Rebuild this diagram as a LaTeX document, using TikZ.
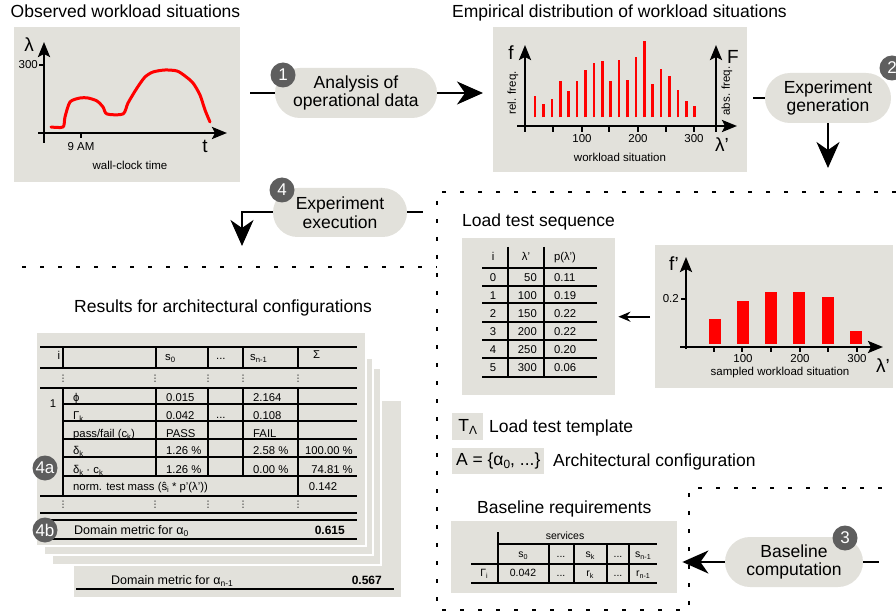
\documentclass[tikz,border=0pt]{standalone}
\usepackage{fontspec}
\setmainfont{Liberation Sans}
\newfontfamily\dejavu{DejaVu Sans}
\usetikzlibrary{arrows.meta,shapes.misc}

\definecolor{panel}{HTML}{E2E1DB}
\definecolor{badgegray}{HTML}{5E5E5E}
\definecolor{barred}{HTML}{FF0000}

\newcommand\fsz[2]{\fontsize{#1}{#2}\selectfont}
\newcommand\sbs[1]{\raisebox{-0.35ex}{\scalebox{0.68}{#1}}}

\tikzset{
  panelbox/.style={fill=panel, draw=none, inner sep=0, anchor=north west},
  stackbox/.style={fill=panel, draw=white, line width=2pt, inner sep=0, anchor=north west},
  pill/.style={rounded rectangle, fill=panel, align=center, inner sep=0,
    font=\fsz{17.5}{18.5}},
  badge/.style={circle, fill=badgegray, text=white, minimum size=25pt, inner sep=0,
    font=\fsz{17}{17}},
  ttl/.style={font=\fsz{17.5}{18}, inner sep=0},
  lbl/.style={font=\fsz{11.5}{12}, inner sep=0},
  cell/.style={font=\fsz{11.3}{12}, inner sep=0, text height=8pt, text depth=0pt},
  smallcell/.style={font=\fsz{10.5}{11}, inner sep=0, text height=7.5pt, text depth=0pt},
  axlbl/.style={font=\fsz{19}{19}, inner sep=0},
  conn/.style={line width=2pt},
  bigtip/.style={conn, -{Stealth[length=26pt,width=23pt,inset=8pt]}},
  axis/.style={line width=2.5pt, -{Stealth[length=15pt,width=12pt,inset=3pt]}},
  tick/.style={line width=1.5pt},
  rule/.style={line width=2pt},
  dashline/.style={line width=2pt, dash pattern=on 4pt off 14pt},
  vd/.style={font=\dejavu\fsz{9}{9}, inner sep=0},
}

\begin{document}
\begin{tikzpicture}[x=1pt,y=-1pt]
\useasboundingbox (0,0) rectangle (896,612);
\clip (0,0) rectangle (896,612);

% ---------- dashed separators ----------
\draw[dashline] (22,267) -- (437,267);
\draw[dashline] (896,192) -- (437,192) -- (437,610) -- (689,610) -- (689,488) -- (896,488);

% ---------- observed workload ----------
\node[ttl, anchor=base west] (t1) at (10.5,18) {Observed workload situations};
\node[panelbox, minimum width=226pt, minimum height=155pt] (obs) at (14,27) {};
\draw[axis] (44,143) -- (44,42);
\draw[axis] (38,133) -- (227,133);
\draw[tick] (39,65) -- (44,65);
\node[lbl, anchor=east] at (38,65) {300};
\node[axlbl] at (29,45) {λ};
\draw[tick] (81,133) -- (81,138);
\node[lbl] at (81,147) {9 AM};
\node[axlbl] at (205,146) {t};
\node[lbl] at (130,165) {wall-clock time};
\draw[barred, line width=3pt, line join=round, line cap=round]
  plot[smooth, tension=0.45] coordinates {(51,127) (63,127) (65,117) (70,102) (80,98)
  (88,98) (97,101) (103,107) (107,114) (123,114) (128,103) (137,88) (145,77) (153,72)
  (165,70) (177,71) (185,76) (193,83) (200,95) (205,110) (210,122)};

% ---------- empirical distribution ----------
\node[ttl, anchor=base west] (t2) at (452,18) {Empirical distribution of workload situations};
\node[panelbox, minimum width=254pt, minimum height=145pt] (emp) at (493,27) {};
\foreach \t [count=\i from 0] in {95.7,104,99,80.7,91,80.7,70,63,60.7,80.7,60,80,57.3,41.3,84,69,76,90.3,101.3,105.7}
  \draw[barred, line width=2.6pt] ({535+8.4*\i},117.3) -- ({535+8.4*\i},\t);
\draw[axis] (525,132) -- (525,45);
\draw[axis] (716,132) -- (716,45);
\draw[axis] (517,126) -- (737,126);
\foreach \x in {553,582,609,638,666,694} \draw[tick] (\x,126) -- (\x,132);
\node[lbl] at (582,139) {100};
\node[lbl] at (638,139) {200};
\node[lbl] at (694,139) {300};
\node[axlbl] at (511,53) {f};
\node[axlbl] at (733,57) {F};
\node[axlbl] at (722,145) {λ'};
\node[lbl, rotate=90] at (513,93) {rel. freq.};
\node[lbl, rotate=90] at (727,91) {abs. freq.};
\node[lbl] at (620,157) {workload situation};

% ---------- process steps ----------
\node[pill, minimum width=162pt, minimum height=50pt] (p1) at (356,93) {Analysis of\\operational data};
\node[badge] (b1) at (283,75) {1};
\node[pill, minimum width=126pt, minimum height=50pt] (p2) at (828,98) {Experiment\\generation};
\node[badge] (b2) at (892,68) {2};
\node[pill, minimum width=138pt, minimum height=50pt] (p3) at (794,562) {Baseline\\computation};
\node[badge] (b3) at (845,538) {3};
\node[pill, minimum width=134pt, minimum height=49pt] (p4) at (340,212.5) {Experiment\\execution};
\node[badge] (b4) at (282,190) {4};

\coordinate (p2tip) at (828,168);
\coordinate (p3end) at (879,562);
\coordinate (p4end) at (423,212.5);
\coordinate (p4tip) at (242,246);

\draw[conn, shorten <=10pt] (obs.east |- p1.west) -- (p1.west);
\draw[bigtip, shorten >=10pt] (p1.east) -- (emp.west |- p1.east);
\draw[conn, shorten <=6pt] (emp.east |- p2.west) -- (p2.west);
\draw[bigtip] (p2.south) -- (p2tip);
\draw[conn] (p4.east) -- (p4end);
\draw[bigtip] (p4.west) -| (p4tip);
\draw[conn] (p3.east) -- (p3end);

% ---------- load test sequence ----------
\node[ttl, anchor=base west] (t3) at (462,227) {Load test sequence};
\node[panelbox, minimum width=153pt, minimum height=157pt] (seq) at (462,238) {};
\foreach \y in {268,286,303,322,340,358,377} \draw[rule] (482,\y) -- (597,\y);
\draw[rule] (508,247) -- (508,377);
\draw[rule] (544,247) -- (544,377);
\node[cell] at (493,257) {i};
\node[cell] at (526,257) {λ'};
\node[cell] at (565,257) {p(λ')};
\foreach \l/\p [count=\r from 0] in {50/0.11,100/0.19,150/0.22,200/0.22,250/0.20,300/0.06} {
  \node[cell] at (493,{277+18*\r}) {\r};
  \node[cell, anchor=east] at (537,{277+18*\r}) {\l};
  \node[cell, anchor=west] at (554,{277+18*\r}) {\p};
}

% ---------- sampled workload ----------
\node[panelbox, minimum width=238pt, minimum height=143pt] (smp) at (655,245) {};
\foreach \x/\t in {715/319,743/301,771/292,799/292,828/297,856/331}
  \fill[barred] ({\x-6},344) rectangle ({\x+6},\t);
\draw[axis] (686,349) -- (686,257);
\draw[axis] (680,347) -- (883,347);
\draw[tick] (681,299) -- (686,299);
\node[lbl, anchor=east] at (679,299) {0.2};
\foreach \x in {714,742,771,800,828,857} \draw[tick] (\x,347) -- (\x,352);
\node[lbl] at (743,359) {100};
\node[lbl] at (800,359) {200};
\node[lbl] at (857,359) {300};
\node[axlbl] at (674,264) {f'};
\node[axlbl] at (883,366) {λ'};
\node[lbl] at (780,373) {sampled workload situation};
\draw[conn, -{Stealth[length=12pt,width=10pt]}, shorten <=5pt, shorten >=3pt] (smp.west) -- (seq.east);

% ---------- legend ----------
\node[panelbox, minimum width=31pt, minimum height=27pt, font=\fsz{17.5}{18}] (lt) at (452,413) {T\sbs{Λ}};
\node[ttl, anchor=base west] at (489,432) {Load test template};
\node[panelbox, minimum width=92pt, minimum height=26pt, font=\fsz{17.5}{18}] (la) at (452,448) {A = \{α\sbs{0}, ...\}};
\node[ttl, anchor=base west] at (553,466) {Architectural configuration};

% ---------- baseline requirements ----------
\node[ttl, anchor=base west] (t4) at (477,513) {Baseline requirements};
\node[panelbox, minimum width=226pt, minimum height=72pt] (base) at (451,521) {};
\draw[rule] (498,532) -- (498,583);
\draw[rule] (498,544) -- (657,544);
\draw[rule] (471,564) -- (657,564);
\draw[rule] (471,583) -- (657,583);
\foreach \x in {549,574,607,629} \draw[rule] (\x,544) -- (\x,583);
\node[smallcell] at (565,536) {services};
\node[smallcell] at (523,554) {s\sbs{0}};
\node[smallcell] at (561,554) {...};
\node[smallcell] at (590,554) {s\sbs{k}};
\node[smallcell] at (618,554) {...};
\node[smallcell] at (643,554) {s\sbs{n-1}};
\node[smallcell] at (484,573) {Γ\sbs{i}};
\node[smallcell] at (523,573) {0.042};
\node[smallcell] at (561,573) {...};
\node[smallcell] at (590,573) {r\sbs{k}};
\node[smallcell] at (618,573) {...};
\node[smallcell] at (643,573) {r\sbs{n-1}};
\draw[bigtip, shorten >=5pt] (p3.west) -- (base.east |- p3.west);

% ---------- results ----------
\node[ttl, anchor=base] (t5) at (223,312) {Results for architectural configurations};
\node[stackbox, minimum width=329pt, minimum height=198pt] (r4) at (72,399) {};
\node[stackbox, minimum width=329pt, minimum height=197pt] (r3) at (51,367) {};
\node[stackbox, minimum width=329pt, minimum height=197pt] (r2) at (43,357) {};
\node[stackbox, minimum width=330pt, minimum height=214pt] (r1) at (35,331) {};

% last configuration
\draw[rule] (76,589) -- (394,589);
\node[cell, font=\fsz{12.5}{13}, anchor=west] at (111,580) {Domain metric for α\sbs{n-1}};
\node[cell, font=\bfseries\fsz{12}{13}, anchor=east] at (382,580) {0.567};

% first configuration
\foreach \y in {347,368,388,496,513,520} \draw[rule] (40,\y) -- (357,\y);
\foreach \y in {404,421,439,457,476} \draw[rule] (63,\y) -- (357,\y);
\draw[rule] (52,539) -- (357,539);
\foreach \x in {63,298} {\draw[rule] (\x,347) -- (\x,368); \draw[rule] (\x,388) -- (\x,496);}
\foreach \x in {156,208,243} {\draw[rule] (\x,347) -- (\x,368); \draw[rule] (\x,388) -- (\x,476);}
\foreach \x in {63,155,208,243,298} {\node[vd] at (\x,379) {⋮}; \node[vd] at (\x,505) {⋮};}

\node[cell] at (59,355) {i};
\node[cell, anchor=west] at (165,356) {s\sbs{0}};
\node[cell, anchor=west] at (216,355) {...};
\node[cell, anchor=west] at (250,356) {s\sbs{n-1}};
\node[cell, anchor=west] at (313,354) {Σ};
\node[cell] at (53,403) {1};

\node[cell, anchor=west] at (73,397) {ϕ};
\node[cell, anchor=west] at (166,397) {0.015};
\node[cell, anchor=west] at (253,397) {2.164};

\node[cell, anchor=west] at (73,415) {Γ\sbs{k}};
\node[cell, anchor=west] at (166,415) {0.042};
\node[cell, anchor=west] at (216,414) {...};
\node[cell, anchor=west] at (253,415) {0.108};

\node[cell, anchor=west] at (73,433) {pass/fail (c\sbs{k})};
\node[cell, anchor=west] at (166,433) {PASS};
\node[cell, anchor=west] at (253,433) {FAIL};

\node[cell, anchor=west] at (73,450) {δ\sbs{k}};
\node[cell, anchor=west] at (166,450) {1.26 \%};
\node[cell, anchor=west] at (253,450) {2.58 \%};
\node[cell, anchor=east] at (353,450) {100.00 \%};

\node[cell, anchor=west] at (73,469) {δ\sbs{k} · c\sbs{k}};
\node[cell, anchor=west] at (166,469) {1.26 \%};
\node[cell, anchor=west] at (253,469) {0.00 \%};
\node[cell, anchor=east] at (353,469) {74.81 \%};

\node[cell, anchor=west] at (73,486) {norm. test mass (ŝ\sbs{i} * p'(λ'))};
\node[cell] at (323,486) {0.142};

\node[cell, font=\fsz{12.5}{13}, anchor=west] at (74,530) {Domain metric for α\sbs{0}};
\node[cell, font=\bfseries\fsz{12}{13}, anchor=east] at (345,530) {0.615};

\node[badge] (b4a) at (45,468) {4a};
\node[badge] (b4b) at (45,530) {4b};
\end{tikzpicture}
\end{document}
